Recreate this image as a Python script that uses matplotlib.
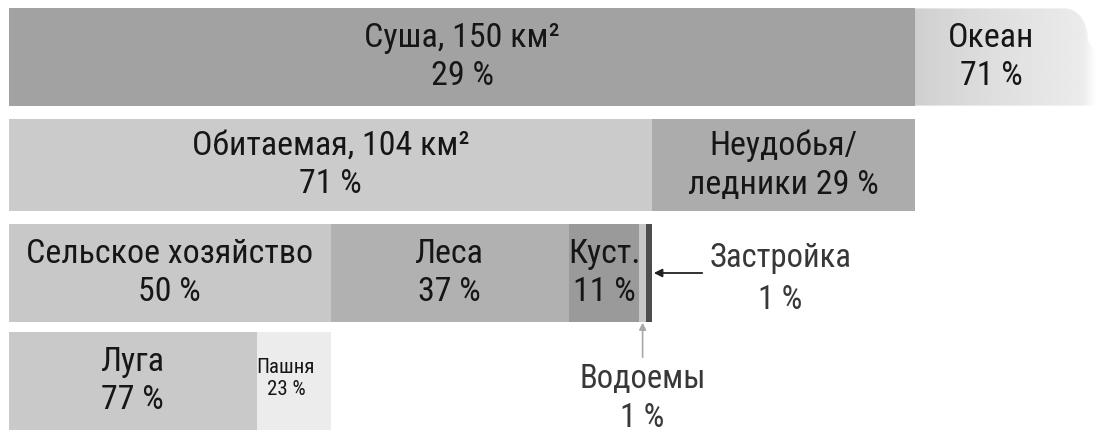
import numpy as np
import matplotlib
matplotlib.use("Agg")
import matplotlib.pyplot as plt
from matplotlib.path import Path
from matplotlib.patches import PathPatch

plt.rcParams['font.family'] = ['Roboto Condensed', 'DejaVu Sans']
plt.rcParams['font.stretch'] = 'condensed'

# Earth surface split (% of total)
surface_labels = ["Суша, 150 км²\n29 %", "Океан\n71 %"]
surface_share = [29, 71]

# Land split (% of land)
land_labels = ["Обитаемая, 104 км²\n71 %", "Неудобья/\nледники 29 %"]
land_share = [71, 29]

# Habitable land use (% of habitable)
use_labels = ["Сельское хозяйство\n50 %", "Леса\n37 %", "Куст.\n11 %", "", ""]
use_share = [50, 37, 11, 1, 1]

# Agriculture split (% of agriculture)
agri_labels = ["Луга\n77 %", "Пашня\n23 %"]
agri_share = [77, 23]

# Small categories labelled outside the bars
water_label = "Водоемы\n1 %"
built_label = "Застройка\n1 %"

land_col = "#a2a2a2"
land_colors = ["#cbcbcb", "#acacac"]
use_colors = ["#c8c8c8", "#b1b1b1", "#9a9a9a", "#c6c6c6", "#4c4c4c"]
agri_colors = ["#c9c9c9", "#ececec"]
text_col = "#161616"

W, H = 1096, 434
fig = plt.figure(figsize=(W / 100, H / 100), dpi=100)
ax = fig.add_axes([0, 0, 1, 1])
ax.set_axis_off()

# horizontal scale: the land bar spans 906 px, starting 9 px from the left
land_px, left_px = 906, 9
unit = land_px / surface_share[0]
ax.set_xlim(-left_px / unit, (W - left_px) / unit)
row_px = 108
ax.set_ylim(3 + (H - 381) / row_px, -57 / row_px)

bar_h = 0.9
fs = 24.5


def label(x, y, s, size=fs, color=text_col, spacing=1.27, weight="normal"):
    ax.text(x, y, s, ha="center", va="center", fontsize=size, color=color,
            linespacing=spacing, fontweight=weight)


# Row 0: land + ocean
land_total = surface_share[0]
ax.barh(0, land_total, left=0, height=bar_h, color=land_col, linewidth=0)
label(land_total / 2, 0, surface_labels[0])

ax.barh(0, surface_share[1], left=land_total, height=bar_h,
        color="none", linewidth=0)
x0 = land_total
x1 = ax.get_xlim()[1]
yt, yb = -bar_h / 2, bar_h / 2
# ocean bar cut off with a curved edge, filled with a fading gradient
xr = x1 - 0.7
xc = x1 - 0.25
cut = Path([(x0, yt), (xr - 0.3, yt), (xr + 0.1, yt), (xc, yt + 0.12),
            (xc, yt + 0.3), (x1 + 1, yb), (x1 + 1, yb), (x0, yb), (x0, yt)],
           [Path.MOVETO, Path.LINETO, Path.CURVE4, Path.CURVE4, Path.CURVE4,
            Path.LINETO, Path.LINETO, Path.LINETO, Path.CLOSEPOLY])
clip = PathPatch(cut, transform=ax.transData, facecolor="none", edgecolor="none")
ax.add_patch(clip)
grad = np.linspace(0, 1, 256)
vals = 0.81 + 0.12 * grad ** 0.8
vals = np.where(grad > 0.93, vals + (grad - 0.93) / 0.07 * (1 - vals), vals)
img = np.tile(vals, (2, 1))
im = ax.imshow(img, cmap="gray", vmin=0, vmax=1, aspect="auto",
               extent=(x0, x1, yb, yt), interpolation="bilinear", zorder=1)
im.set_clip_path(clip)
ocean_center = x0 + (xr - x0) / 2 - 0.1
label(ocean_center, 0, surface_labels[1])

# Row 1: habitable vs unusable
left = 0
for share, col, txt in zip(land_share, land_colors, land_labels):
    w = land_total * share / 100
    ax.barh(1, w, left=left, height=bar_h * 0.95, color=col, linewidth=0)
    label(left + w / 2, 1, txt)
    left += w
habitable = land_total * land_share[0] / 100

# Row 2: habitable land use
left = 0
use_pos = []
for share, col, txt in zip(use_share, use_colors, use_labels):
    w = habitable * share / 100
    ax.barh(2, w, left=left, height=bar_h, color=col, linewidth=0)
    if txt:
        label(left + w / 2, 2, txt)
    use_pos.append((left, w))
    left += w
agri = habitable * use_share[0] / 100

# Row 3: agriculture split
left = 0
for i, (share, col, txt) in enumerate(zip(agri_share, agri_colors, agri_labels)):
    w = agri * share / 100
    ax.barh(3, w, left=left, height=bar_h, color=col, linewidth=0)
    if i == 0:
        label(left + w / 2, 3, txt)
    else:
        label(left + w / 2 - 0.25, 2.98, txt, size=15, spacing=1.2)
    left += w

# Built-up area: arrow from the right
bl, bw = use_pos[4]
bx = bl + bw
ax.annotate("", xy=(bx + 0.05, 2), xytext=(bx + 1.6, 2),
            arrowprops=dict(arrowstyle="-|>", color="#222222", lw=1.3,
                            mutation_scale=12, shrinkA=0, shrinkB=0))
label(bx + 4.1, 2.06, built_label, size=23.5, color="#383838", spacing=1.4)

# Water bodies: arrow from below
wl, ww = use_pos[3]
wx = wl + ww / 2
ax.annotate("", xy=(wx, 2 + bar_h / 2 + 0.01), xytext=(wx, 2.78),
            arrowprops=dict(arrowstyle="-|>", color="#a8a8a8", lw=1.2,
                            mutation_scale=10, shrinkA=0, shrinkB=0))
label(wx, 3.16, water_label, size=23.5, color="#383838", spacing=1.3)

fig.savefig("out.png", dpi=100)
